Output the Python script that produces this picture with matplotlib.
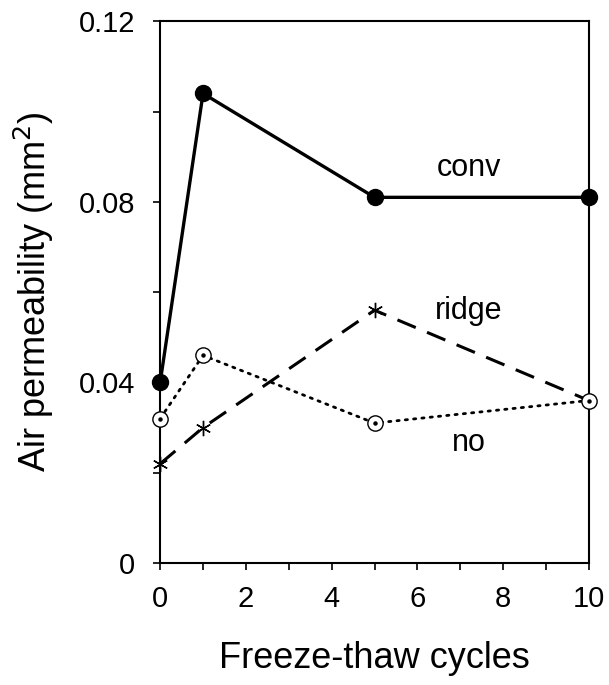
import numpy as np
import matplotlib
matplotlib.use('Agg')
from matplotlib import pyplot as plt
from matplotlib.ticker import MultipleLocator, FixedLocator, FixedFormatter

plt.rcParams['font.family'] = ['Liberation Sans', 'DejaVu Sans']

# freeze-thaw cycles and air permeability per tillage treatment
cycles = [0, 1, 5, 10]
conv = [0.040, 0.104, 0.081, 0.081]
ridge = [0.022, 0.030, 0.056, 0.036]
no_till = [0.032, 0.046, 0.031, 0.036]

y_ticks = [0, 0.04, 0.08, 0.12]
y_tick_labels = ["0", "0.04", "0.08", "0.12"]

fig = plt.figure(figsize=(6.09, 6.85), dpi=100)
ax = fig.add_axes([0.263, 0.178, 0.704, 0.791])

# conv: solid with filled circles
ax.plot(cycles, conv, color="black", linewidth=2.4, marker="o",
        markersize=11.5, markerfacecolor="black", clip_on=False, zorder=4)

# ridge: long dashes with asterisks
ax.plot(cycles, ridge, color="black", linewidth=2.2, dashes=(6.5, 4),
        marker=(6, 2, 0), markersize=11, markeredgewidth=1.0, clip_on=False, zorder=3)

# no-till: dotted with open circles (dot in centre)
ax.plot(cycles, no_till, color="black", linewidth=2.0, linestyle=(0, (0.8, 2.2)),
        dash_capstyle="round", marker="o", markersize=11, markerfacecolor="white",
        markeredgewidth=1.0, clip_on=False, zorder=3)
ax.plot(cycles, no_till, linestyle="none", marker="o", markersize=2.2,
        color="black", clip_on=False, zorder=5)

ax.text(7.2, 0.0875, "conv", fontsize=22, ha="center", va="center")
ax.text(7.2, 0.0558, "ridge", fontsize=22, ha="center", va="center")
ax.text(7.2, 0.0265, "no", fontsize=22, ha="center", va="center")

ax.set_xlim(0, 10)
ax.set_ylim(0, 0.12)
ax.xaxis.set_major_locator(MultipleLocator(2))
ax.xaxis.set_minor_locator(MultipleLocator(1))
ax.yaxis.set_major_locator(FixedLocator(y_ticks))
ax.yaxis.set_major_formatter(FixedFormatter(y_tick_labels))
ax.yaxis.set_minor_locator(MultipleLocator(0.02))

ax.tick_params(axis="both", which="both", direction="out", length=5, width=1.2,
               labelsize=21, top=False, right=False)
ax.tick_params(axis="x", which="major", pad=11)
ax.tick_params(axis="y", which="major", pad=13)
for spine in ax.spines.values():
    spine.set_linewidth(1.5)

ax.set_xlabel("Freeze-thaw cycles", fontsize=26, labelpad=20)
ax.set_ylabel("Air permeability (mm$^2$)", fontsize=26, labelpad=16)

fig.savefig("out.png", dpi=100)
